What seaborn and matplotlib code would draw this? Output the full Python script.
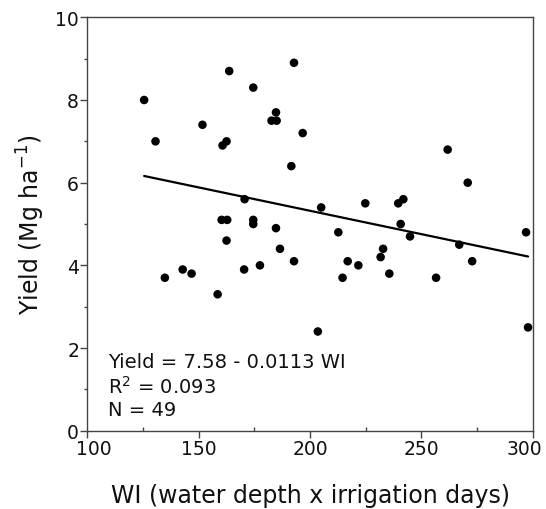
import matplotlib
matplotlib.use("Agg")
import matplotlib.pyplot as plt
import matplotlib.transforms as mtransforms
import seaborn as sns
import numpy as np
import pandas as pd
from matplotlib.ticker import MultipleLocator

wi = [125.5, 130.6, 134.8, 142.8, 146.8, 151.7, 158.5, 160.7, 160.3, 162.5,
      162.8, 162.5, 163.7, 170.6, 170.4, 174.5, 174.5, 174.5, 177.5, 182.7,
      185.0, 184.7, 184.7, 186.5, 191.6, 192.8, 192.8, 196.7, 203.5, 205.0,
      212.7, 214.6, 216.9, 221.7, 224.8, 231.7, 232.8, 235.6, 239.6, 240.7,
      241.9, 244.9, 256.6, 261.8, 267.0, 270.8, 272.8, 297.0, 297.9]
yld = [8.0, 7.0, 3.7, 3.9, 3.8, 7.4, 3.3, 6.9, 5.1, 7.0,
       5.1, 4.6, 8.7, 5.6, 3.9, 8.3, 5.1, 5.0, 4.0, 7.5,
       7.5, 7.7, 4.9, 4.4, 6.4, 8.9, 4.1, 7.2, 2.4, 5.4,
       4.8, 3.7, 4.1, 4.0, 5.5, 4.2, 4.4, 3.8, 5.5, 5.0,
       5.6, 4.7, 3.7, 6.8, 4.5, 6.0, 4.1, 4.8, 2.5]
intercept = 7.58
slope = -0.0113
annot_lines = ["Yield = 7.58 - 0.0113 WI", "R$^2$ = 0.093", "N = 49"]
x_ticks = [100, 150, 200, 250, 300]
y_ticks = [0, 2, 4, 6, 8, 10]

sns.set_theme(style="white")
plt.rcParams['font.family'] = ['DejaVu Sans']
plt.rcParams['mathtext.fontset'] = 'dejavusans'

fig = plt.figure(figsize=(5.46, 5.10), dpi=100)
ax = fig.add_axes([0.160, 0.1535, 0.8157, 0.8106])

df = pd.DataFrame({"WI": wi, "Yield": yld})
sns.scatterplot(data=df, x="WI", y="Yield", ax=ax, color="black",
                s=38, edgecolor="none", zorder=3)

xl = np.array([min(wi), max(wi)])
ax.plot(xl, intercept + slope * xl, color="black", lw=1.6, zorder=2)

ax.set_xlim(100, 300)
ax.set_ylim(0, 10)
ax.set_xticks(x_ticks)
ax.set_yticks(y_ticks)
ax.xaxis.set_minor_locator(MultipleLocator(25))
ax.yaxis.set_minor_locator(MultipleLocator(1))

for sp in ax.spines.values():
    sp.set_color("#444444")
    sp.set_linewidth(1.0)

ax.tick_params(axis="both", which="major", direction="out", length=5,
               width=1, color="#444444", labelsize=13.5, labelcolor="#111111", pad=1)
ax.tick_params(axis="x", which="minor", direction="in", length=3, width=1,
               color="#444444", bottom=True)
ax.tick_params(axis="y", which="minor", direction="out", length=2.5, width=1,
               color="#444444", left=True)
ax.tick_params(axis="x", which="major", bottom=True)
ax.tick_params(axis="y", which="major", left=True)

# nudge end labels inward like the reference
xlabels = ax.get_xticklabels()
xlabels[0].set_transform(xlabels[0].get_transform() +
                         mtransforms.ScaledTranslation(6 / 100, 0, fig.dpi_scale_trans))
xlabels[-1].set_transform(xlabels[-1].get_transform() +
                          mtransforms.ScaledTranslation(-8 / 100, 0, fig.dpi_scale_trans))

ax.set_xlabel("WI (water depth x irrigation days)", fontsize=17, color="#111111", labelpad=18)
ax.set_ylabel("Yield (Mg ha$^{-1}$)", fontsize=17, color="#111111", labelpad=6)

ys = [363, 387, 411]
for t, yp in zip(annot_lines, ys):
    fig.text(108 / 546, 1 - yp / 510, t, fontsize=14, color="#111111",
             va="center", ha="left")

fig.savefig("out.png", dpi=100)
